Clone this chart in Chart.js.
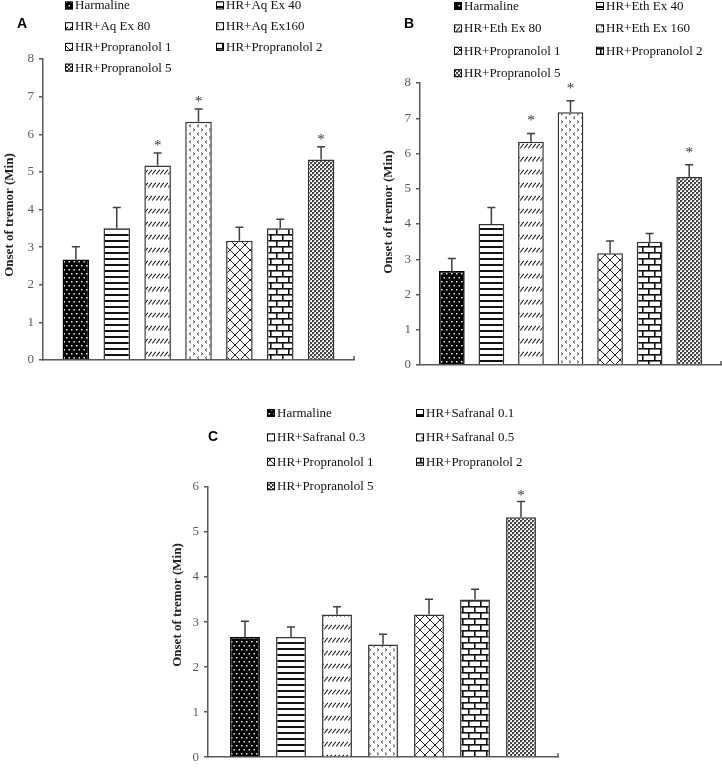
<!DOCTYPE html>
<html><head><meta charset="utf-8">
<script src="https://cdn.jsdelivr.net/npm/chart.js@4.4.0/dist/chart.umd.min.js"></script>
<style>
html,body{margin:0;padding:0;background:#fff;}
#wrap{position:relative;width:722px;height:770px;overflow:hidden;}
#wrap canvas{position:absolute;left:0;top:0;}
</style></head><body>
<div id="wrap">
<canvas id="cA" width="722" height="770"></canvas>
<canvas id="cB" width="722" height="770"></canvas>
<canvas id="cC" width="722" height="770"></canvas>
</div>
<script>
// ---------- DATA ----------
const labelsA = ['Harmaline','HR+Aq Ex 40','HR+Aq Ex 80','HR+Aq Ex160','HR+Propranolol 1','HR+Propranolol 2','HR+Propranolol 5'];
const valuesA = [2.67, 3.5, 5.17, 6.33, 3.17, 3.5, 5.33];
const errorsA = [0.34, 0.55, 0.33, 0.34, 0.36, 0.24, 0.34];
const sigA    = [false, false, true, true, false, false, true];
const ticksA  = [0,1,2,3,4,5,6,7,8];

const labelsB = ['Harmaline','HR+Eth Ex 40','HR+Eth Ex 80','HR+Eth Ex 160','HR+Propranolol 1','HR+Propranolol 2','HR+Propranolol 5'];
const valuesB = [2.67, 4.0, 6.33, 7.17, 3.17, 3.5, 5.33];
const errorsB = [0.35, 0.47, 0.24, 0.33, 0.35, 0.23, 0.35];
const sigB    = [false, false, true, true, false, false, true];
const ticksB  = [0,1,2,3,4,5,6,7,8];

const labelsC = ['Harmaline','HR+Safranal 0.1','HR+Safranal 0.3','HR+Safranal 0.5','HR+Propranolol 1','HR+Propranolol 2','HR+Propranolol 5'];
const valuesC = [2.67, 2.67, 3.17, 2.5, 3.17, 3.5, 5.33];
const errorsC = [0.35, 0.22, 0.17, 0.23, 0.34, 0.23, 0.35];
const sigC    = [false, false, false, false, false, false, true];
const ticksC  = [0,1,2,3,4,5,6];

const yTitle = 'Onset of tremor (Min)';

// ---------- PATTERNS ----------
function tile(w,h,draw){const c=document.createElement('canvas');c.width=w;c.height=h;const g=c.getContext('2d');draw(g);return c;}
function makePatterns(ctx){
  const t = [];
  // 1 dots on black
  t.push(tile(5,8,g=>{g.fillStyle='#000';g.fillRect(0,0,5,8);g.fillStyle='#e8e8e8';g.fillRect(1,1,1.5,1.5);g.fillRect(3.5,5,1.5,1.5);}));
  // 2 horizontal stripes
  t.push(tile(4,6,g=>{g.fillStyle='#fff';g.fillRect(0,0,4,6);g.fillStyle='#111';g.fillRect(0,0,4,2);}));
  // 3 dashed diagonal
  t.push(tile(4,13,g=>{g.fillStyle='#fff';g.fillRect(0,0,4,13);g.strokeStyle='#222';g.lineWidth=1.1;g.beginPath();g.moveTo(0.3,5.5);g.lineTo(3.7,0.8);g.stroke();}));
  // 4 divot < >
  t.push(tile(8,8,g=>{g.fillStyle='#fff';g.fillRect(0,0,8,8);g.strokeStyle='#444';g.lineWidth=1;g.beginPath();g.moveTo(1,0.5);g.lineTo(2.8,1.8);g.lineTo(1,3.2);g.moveTo(7,4.5);g.lineTo(5.2,5.8);g.lineTo(7,7.2);g.stroke();}));
  // 5 diamond lattice
  t.push(tile(10,10,g=>{g.fillStyle='#fff';g.fillRect(0,0,10,10);g.strokeStyle='#222';g.lineWidth=1;g.beginPath();g.moveTo(0,0);g.lineTo(10,10);g.moveTo(10,0);g.lineTo(0,10);g.stroke();}));
  // 6 brick
  t.push(tile(12,12,g=>{g.fillStyle='#fff';g.fillRect(0,0,12,12);g.fillStyle='#111';g.fillRect(0,0,12,1.6);g.fillRect(0,6,12,1.6);g.fillRect(0,0,1.6,6);g.fillRect(6,6,1.6,6);}));
  // 7 small checker
  t.push(tile(4,4,g=>{g.fillStyle='#fff';g.fillRect(0,0,4,4);g.fillStyle='#444';g.fillRect(0,0,2,2);g.fillRect(2,2,2,2);g.fillStyle='#bbb';g.fillRect(2,0,1,1);g.fillRect(0,2,1,1);}));
  return t.map(c=>ctx.createPattern(c,'repeat'));
}

// ---------- PLUGIN: error bars, stars, legend, titles ----------
const deco = {
  id:'deco',
  afterDatasetsDraw(chart, args, o){
    const ctx = chart.ctx, ys = chart.scales.y;
    ctx.save();
    chart.data.datasets.forEach((ds,i)=>{
      const bar = chart.getDatasetMeta(i).data[0];
      const v = ds.data[0], e = ds.err;
      const yt = ys.getPixelForValue(v+e), yb = ys.getPixelForValue(v);
      ctx.strokeStyle='#404040'; ctx.lineWidth=1.5;
      ctx.beginPath(); ctx.moveTo(bar.x, yb); ctx.lineTo(bar.x, yt);
      ctx.moveTo(bar.x-4, yt); ctx.lineTo(bar.x+4, yt); ctx.stroke();
      if(ds.sig){
        ctx.fillStyle='#333'; ctx.font='15px "Liberation Serif"';
        ctx.textAlign='center'; ctx.textBaseline='alphabetic';
        ctx.fillText('*', bar.x, yt - o.starOffset + 7);
      }
    });
    // small tick at right end of x axis
    const ca = chart.chartArea;
    ctx.strokeStyle='#595959'; ctx.lineWidth=1.5;
    ctx.beginPath(); ctx.moveTo(ca.right, ca.bottom); ctx.lineTo(ca.right, ca.bottom-4); ctx.stroke();
    ctx.restore();
  },
  afterDraw(chart, args, o){
    const ctx = chart.ctx;
    ctx.save();
    // panel letter
    ctx.fillStyle='#000'; ctx.font='bold 14px "Liberation Sans"';
    ctx.textAlign='center'; ctx.textBaseline='middle';
    ctx.fillText(o.letter, o.letterX, o.letterY);
    // legend
    ctx.font='13px "Liberation Serif"'; ctx.textAlign='left'; ctx.textBaseline='middle';
    chart.data.datasets.forEach((ds,i)=>{
      const col = i%2, row = Math.floor(i/2);
      const x = col===0 ? o.legX1 : o.legX2;
      const y = o.legY0 + row*o.legStep;
      ctx.fillStyle = ds.backgroundColor;
      ctx.fillRect(x, y-4, 8, 8);
      ctx.strokeStyle='#000'; ctx.lineWidth=1;
      ctx.strokeRect(x+0.5, y-3.5, 7, 7);
      ctx.fillStyle='#111';
      ctx.fillText(ds.label, x+10, y+0.5);
    });
    // y title
    ctx.translate(o.titleX, o.titleY); ctx.rotate(-Math.PI/2);
    ctx.font='bold 13px "Liberation Serif"'; ctx.textAlign='center'; ctx.textBaseline='middle';
    ctx.fillStyle='#222';
    ctx.fillText(yTitle, 0, 0);
    ctx.restore();
  }
};

function build(id, labels, values, errors, sig, ticks, pad, deco_opts){
  const cv = document.getElementById(id);
  const ctx = cv.getContext('2d');
  const pats = makePatterns(ctx);
  const datasets = labels.map((l,i)=>({
    label:l, data:[values[i]], err:errors[i], sig:sig[i],
    backgroundColor:pats[i], borderColor: i===0 ? '#000' : '#333', borderWidth:1.5,
    categoryPercentage:0.92, barPercentage:0.65
  }));
  new Chart(ctx, {
    type:'bar',
    data:{labels:[''], datasets},
    options:{
      responsive:false, animation:false, devicePixelRatio:1,
      layout:{padding:pad},
      plugins:{legend:{display:false}, tooltip:{enabled:false}, deco:deco_opts},
      scales:{
        x:{grid:{display:false}, ticks:{display:false},
           border:{display:true, color:'#595959', width:1.5},
           afterFit(s){s.height=0;}},
        y:{min:ticks[0], max:ticks[ticks.length-1],
           afterBuildTicks(s){s.ticks = ticks.map(v=>({value:v}));},
           ticks:{color:'#595959', font:{family:'Liberation Serif', size:13}, padding:5},
           grid:{drawOnChartArea:false, drawTicks:true, tickLength:4, color:'#595959', lineWidth:1.5},
           border:{color:'#595959', width:1.5},
           afterFit(s){s.width=30;}}
      }
    },
    plugins:[deco]
  });
}

build('cA', labelsA, valuesA, errorsA, sigA, ticksA,
  {left:13, top:59, right:368, bottom:410},
  {letter:'A', letterX:22, letterY:24, legX1:65, legX2:216, legY0:5.5, legStep:20.7, titleX:10, titleY:215, starOffset:10});
build('cB', labelsB, valuesB, errorsB, sigB, ticksB,
  {left:390, top:83, right:1, bottom:405},
  {letter:'B', letterX:409, letterY:24, legX1:454, legX2:596, legY0:6, legStep:22.4, titleX:389, titleY:212, starOffset:15});
build('cC', labelsC, valuesC, errorsC, sigC, ticksC,
  {left:178, top:487, right:164, bottom:4},
  {letter:'C', letterX:213, letterY:437, legX1:267, legX2:416, legY0:413, legStep:24.4, titleX:178, titleY:605, starOffset:8});
</script>
</body></html>
